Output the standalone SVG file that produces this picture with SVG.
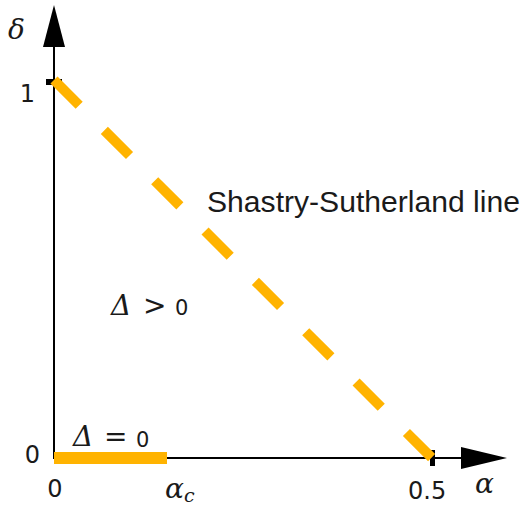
<svg xmlns="http://www.w3.org/2000/svg" width="523" height="509" viewBox="0 0 523 509">
<style>
.axis{stroke:#000;stroke-width:2;fill:none}
.num{font-family:"DejaVu Sans","Liberation Sans",sans-serif;font-size:24px;fill:#1a1a1a}
.gr{font-family:"DejaVu Serif","Liberation Serif",serif;font-style:italic;fill:#1a1a1a}
.op{font-family:"DejaVu Sans","Liberation Sans",sans-serif;fill:#1a1a1a}
.orange{stroke:#FFB300;fill:none}
</style>
<rect width="523" height="509" fill="#fff"/>
<g id="connectors">
<line class="axis" x1="54" y1="459" x2="54" y2="40"/>
<polygon points="54,5 43,47 65,47" fill="#000"/>
<line class="axis" x1="53" y1="458" x2="465" y2="458"/>
<polygon points="507,458 461,447 461,469" fill="#000"/>
<rect x="46" y="79" width="16" height="6" fill="#000"/>
<rect x="430" y="450" width="5" height="16" fill="#000"/>
<line id="ss-line" class="orange" x1="54" y1="80" x2="432" y2="458" stroke-width="10" stroke-dasharray="35.6 35.6"/>
<rect id="gapless" x="54" y="452" width="113" height="12" fill="#FFB300"/>
</g>
<g id="labels">
<text class="gr" x="8" y="39" font-size="28">δ</text>
<text class="num" x="35" y="102" text-anchor="end">1</text>
<text class="num" x="40" y="463" text-anchor="end">0</text>
<text class="num" x="55" y="497" text-anchor="middle">0</text>
<text class="num" x="408" y="499">0.5</text>
<text class="gr" x="475" y="493" font-size="28">α</text>
<text class="gr" x="165" y="498" font-size="28">α<tspan font-size="19" dy="4">c</tspan></text>
</g>
<g id="region-gt">
<text x="111" y="315"><tspan class="gr" font-size="28">Δ</tspan><tspan class="op" x="143" font-size="28">&gt;</tspan><tspan class="op" x="175" font-size="21">0</tspan></text>
</g>
<g id="region-eq">
<text x="73" y="446"><tspan class="gr" font-size="28">Δ</tspan><tspan class="op" x="104" font-size="28">=</tspan><tspan class="op" x="136" y="447" font-size="21">0</tspan></text>
</g>
<g id="ss-label">
<text x="207" y="212" font-family="'Liberation Sans',Arial,sans-serif" font-size="30" fill="#1a1a1a" textLength="313" lengthAdjust="spacingAndGlyphs">Shastry-Sutherland line</text>
</g>
</svg>
